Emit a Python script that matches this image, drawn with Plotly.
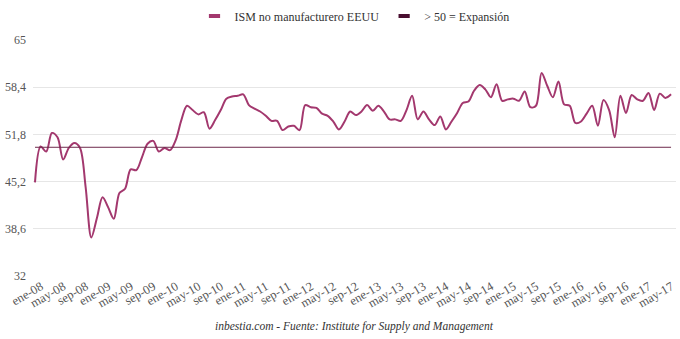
import plotly.graph_objects as go

# Monthly ISM non-manufacturing index, January 2008 to June 2017
meses = ["ene", "feb", "mar", "abr", "may", "jun", "jul", "ago", "sep", "oct", "nov", "dic"]
anios = list(range(2008, 2018))
periodos = [f"{m}-{str(a)[2:]}" for a in anios for m in meses][:114]

ism_2008 = [45.1, 50.1, 49.4, 52.0, 51.4, 48.3, 49.9, 50.6, 49.9, 44.4, 37.4, 40.1]
ism_2009 = [43.0, 41.6, 40.0, 43.6, 44.2, 46.9, 46.8, 48.6, 50.5, 50.9, 49.4, 49.9]
ism_2010 = [49.6, 51.0, 53.8, 55.8, 55.2, 54.6, 54.9, 52.6, 53.8, 55.2, 56.8, 57.1]
ism_2011 = [57.2, 57.4, 55.9, 55.4, 55.0, 54.4, 53.7, 53.7, 52.4, 52.9, 53.0, 52.4]
ism_2012 = [55.9, 55.6, 55.5, 54.7, 54.4, 53.6, 52.5, 53.6, 55.0, 54.5, 55.0, 55.9]
ism_2013 = [55.1, 55.8, 55.0, 53.9, 53.9, 53.7, 55.2, 57.2, 53.9, 55.0, 53.9, 53.1]
ism_2014 = [54.3, 52.5, 53.6, 54.8, 56.2, 56.4, 57.9, 58.7, 58.1, 57.0, 58.8, 56.5]
ism_2015 = [56.7, 56.8, 56.5, 57.8, 55.6, 55.8, 60.4, 58.6, 57.0, 59.2, 56.0, 55.8]
ism_2016 = [53.4, 53.6, 54.7, 55.8, 53.0, 56.6, 55.2, 51.4, 57.2, 54.8, 57.3, 56.7]
ism_2017 = [56.5, 57.6, 55.2, 57.5, 56.9, 57.4]

ism = (ism_2008 + ism_2009 + ism_2010 + ism_2011 + ism_2012 + ism_2013
       + ism_2014 + ism_2015 + ism_2016 + ism_2017)
umbral = [50] * len(ism)

y_ticks = [32, 38.6, 45.2, 51.8, 58.4, 65]
y_tick_text = ["32", "38,6", "45,2", "51,8", "58,4", "65"]
x_ticks = periodos[::4]

serif = "Liberation Serif"

fig = go.Figure()
fig.add_trace(go.Scatter(
    x=periodos, y=ism, mode="lines", name="ISM no manufacturero EEUU",
    line=dict(color="#a3386e", width=2, shape="spline", smoothing=0.9),
    showlegend=False,
))
fig.add_trace(go.Scatter(
    x=periodos, y=umbral, mode="lines", name="> 50 = Expansión",
    line=dict(color="#6e2a4c", width=1), showlegend=False,
))
# legend entries with short bar symbols
fig.add_trace(go.Scatter(
    x=[None], y=[None], mode="markers", name="ISM no manufacturero EEUU",
    marker=dict(symbol="line-ew", size=8, line=dict(color="#a3386e", width=4)),
))
fig.add_trace(go.Scatter(
    x=[None], y=[None], mode="markers", name="> 50 = Expansión",
    marker=dict(symbol="line-ew", size=8, line=dict(color="#4a0f30", width=4)),
))

fig.update_layout(
    width=680, height=339,
    margin=dict(l=33, r=4, t=40, b=63, autoexpand=False),
    paper_bgcolor="white", plot_bgcolor="white",
    font=dict(family=serif, size=13, color="#555555"),
    legend=dict(orientation="h", x=0.5, xanchor="center", y=1 - 16 / 339, yanchor="middle",
                yref="container", font=dict(family=serif, size=12, color="#333333"),
                itemwidth=30, tracegroupgap=0),
    annotations=[dict(
        text="<i>inbestia.com - Fuente: Institute for Supply and Management</i>",
        x=0.5, xref="paper", xanchor="center", y=0, yref="paper", yanchor="top",
        yshift=-42, showarrow=False,
        font=dict(family=serif, size=11.5, color="#333333"),
    )],
)

fig.update_xaxes(
    type="category", categoryorder="array", categoryarray=periodos,
    range=[-0.355, 113.88], tickvals=x_ticks, ticktext=x_ticks,
    tickangle=-30, showgrid=False, zeroline=False, showline=False, ticks="",
    tickfont=dict(family=serif, size=12.5, color="#555555"), ticklabelshift=6,
)
fig.update_yaxes(
    range=[32, 65], tickvals=y_ticks, ticktext=y_tick_text,
    showgrid=True, gridcolor="#e6e6e6", gridwidth=1, zeroline=False, showline=False,
    tickfont=dict(family=serif, size=12, color="#555555"), ticklabelstandoff=6,
)

fig.write_html("out.html")
